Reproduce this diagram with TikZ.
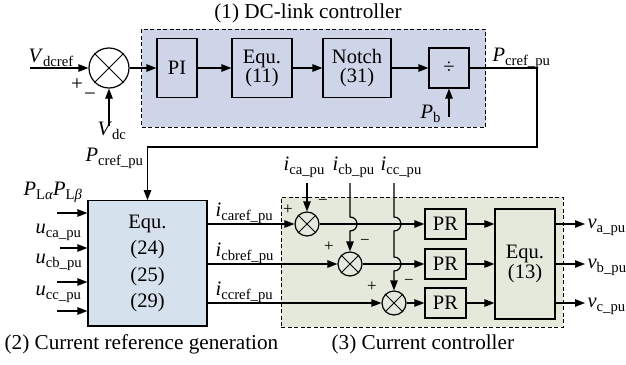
\documentclass[tikz,border=0pt]{standalone}
\usepackage{fontspec}
\setmainfont{Liberation Serif}
\usetikzlibrary{arrows.meta}
\definecolor{dcfill}{RGB}{207,213,232}
\definecolor{eqfill}{RGB}{213,225,236}
\definecolor{ccfill}{RGB}{229,233,219}
\newcommand\sbs[1]{\raisebox{-4pt}{\fontsize{14.7}{15}\selectfont #1}}
\newcommand\var[2]{\textit{#1}\sbs{#2}}
\begin{document}
\begin{tikzpicture}[x=1pt,y=-1pt,line width=1.2pt,
  >={Triangle[length=10pt,width=7.5pt]},
  blk/.style={draw,inner sep=0pt,align=center,font=\fontsize{20.5}{19}\selectfont},
  sumc/.style={draw,circle,inner sep=0pt,minimum size=#1},
  lbl/.style={anchor=base west,inner sep=0pt,font=\fontsize{20.5}{22}\selectfont},
  sgn/.style={inner sep=0pt,font=\fontsize{21}{21}\selectfont},
  ssgn/.style={inner sep=0pt,font=\fontsize{17}{17}\selectfont},
  ttl/.style={inner sep=0pt,font=\fontsize{21.2}{23}\selectfont},
  area/.style={draw,dash pattern=on 4pt off 2.5pt,line width=1pt,inner sep=0pt}]
\useasboundingbox (0,0) rectangle (626,364);
% background areas
\node[area,fill=dcfill,minimum width=344,minimum height=98] (dcbox) at (313.7,78) {};
\node[area,fill=ccfill,minimum width=282,minimum height=130] (ccbox) at (422,262) {};
\node[ttl] (t1) at (308,13) {(1) DC-link controller};
\node[ttl,anchor=base west] (t2) at (4,349) {(2) Current reference generation};
\node[ttl,anchor=base west] (t3) at (331,349) {(3) Current controller};
% DC-link controller
\node[sumc=40] (s1) at (109,68) {};
\node[blk,minimum width=40,minimum height=59.5] (pi) at (177,68) {PI};
\node[blk,minimum width=60,minimum height=59.5] (eq11) at (262,68) {Equ.\\(11)};
\node[blk,minimum width=68,minimum height=59.5] (notch) at (357,68) {Notch\\(31)};
\node[blk,minimum width=40,minimum height=40] (div) at (449,68) {÷};
\coordinate (vin) at (30,68);
\coordinate (vdcb) at (109,126);
\coordinate (pbb) at (449,117);
\coordinate (turn) at (537,147);
\draw[->] (vin) -- (s1.west);
\draw[->] (vdcb) -- (s1.south);
\draw[->] (s1.east) -- (pi.west);
\draw[->] (pi.east) -- (eq11.west);
\draw[->] (eq11.east) -- (notch.west);
\draw[->] (notch.east) -- (div.west);
\draw[->] (pbb) -- (div.south);
\node[lbl] (lvdcref) at (28,62) {\var{V}{dcref}};
\node[sgn] (p1) at (77,85) {+};
\node[sgn] (m1) at (90,97) {−};
\node[lbl] (lvdc) at (97,135) {\var{V}{dc}};
\node[lbl] (lpb) at (420,118) {\var{P}{b}};
\node[lbl] (lpc1) at (492,61) {\var{P}{cref\_pu}};
% current reference generation
\node[blk,fill=eqfill,minimum width=119,minimum height=125.3,font=\fontsize{20.5}{26.5}\selectfont] (eq24) at (147.5,263.4) {Equ.\\(24)\\(25)\\(29)};
\draw[->] (div.east) -| (turn) -| (eq24.north);
\node[lbl] (lpc2) at (85,161) {\var{P}{cref\_pu}};
\coordinate (in1) at (57,213);
\coordinate (in2) at (60,248);
\coordinate (in3) at (57,282);
\coordinate (in4) at (57,311);
\foreach \c in {in1,in2,in3,in4} \draw[->] (\c) -- (\c -| eq24.west);
\node[lbl] (lpl) at (23,195) {\textit{P}\sbs{L\textit{α}}\textit{P}\sbs{L\textit{β}}};
\node[lbl] (lua) at (35,233) {\var{u}{ca\_pu}};
\node[lbl] (lub) at (35,263) {\var{u}{cb\_pu}};
\node[lbl] (luc) at (35,295) {\var{u}{cc\_pu}};
% current controller
\node[sumc=24] (sa) at (307,224) {};
\node[sumc=24] (sb) at (350,264) {};
\node[sumc=24] (sc) at (394,303) {};
\foreach \s in {s1,sa,sb,sc} \draw[line width=1pt] (\s.45) -- (\s.225) (\s.135) -- (\s.315);
\node[blk,minimum width=41,minimum height=30] (pra) at (445.5,224) {PR};
\node[blk,minimum width=41,minimum height=30] (prb) at (445.5,264) {PR};
\node[blk,minimum width=41,minimum height=30] (prc) at (445.5,303) {PR};
\node[blk,minimum width=60,minimum height=110,font=\fontsize{20.5}{17.5}\selectfont] (eq13) at (525,264) {Equ.\\(13)};
\draw[->] (eq24.east |- sa) -- (sa.west);
\draw[->] (eq24.east |- sb) -- (sb.west);
\draw[->] (eq24.east |- sc) -- (sc.west);
\node[lbl] (lia) at (215,216) {\var{i}{caref\_pu}};
\node[lbl] (lib) at (215,256) {\var{i}{cbref\_pu}};
\node[lbl] (lic) at (215,295) {\var{i}{ccref\_pu}};
\draw[->] (sa.east) -- (pra.west);
\draw[->] (sb.east) -- (prb.west);
\draw[->] (sc.east) -- (prc.west);
\draw[->] (pra.east) -- (eq13.west |- pra);
\draw[->] (prb.east) -- (eq13.west |- prb);
\draw[->] (prc.east) -- (eq13.west |- prc);
\coordinate (oa) at (585,224);
\coordinate (ob) at (585,264);
\coordinate (oc) at (585,303);
\draw[->] (eq13.east |- oa) -- (oa);
\draw[->] (eq13.east |- ob) -- (ob);
\draw[->] (eq13.east |- oc) -- (oc);
\node[lbl] (lva) at (587,228) {\var{v}{a\_pu}};
\node[lbl] (lvb) at (587,268) {\var{v}{b\_pu}};
\node[lbl] (lvc) at (587,307) {\var{v}{c\_pu}};
% feedback
\coordinate (fa) at (307,183);
\coordinate (fb) at (350,183);
\coordinate (fc) at (394,183);
\draw[->] (fa) -- (sa.north);
\draw[->] (fb) -- (350,217) .. controls (359.3,217) and (359.3,231) .. (350,231) -- (sb.north);
\draw[->] (fc) -- (394,217) .. controls (403.3,217) and (403.3,231) .. (394,231) -- (394,257) .. controls (403.3,257) and (403.3,271) .. (394,271) -- (sc.north);
\node[lbl] (lfa) at (283,170) {\var{i}{ca\_pu}};
\node[lbl] (lfb) at (332,170) {\var{i}{cb\_pu}};
\node[lbl] (lfc) at (380,170) {\var{i}{cc\_pu}};
\node[ssgn] (pa) at (288,210) {+};
\node[ssgn] (ma) at (323,202) {−};
\node[ssgn] (pb) at (329,247) {+};
\node[ssgn] (mb) at (365,242) {−};
\node[ssgn] (pc) at (372,287) {+};
\node[ssgn] (mc) at (409,282) {−};
\end{tikzpicture}
\end{document}
